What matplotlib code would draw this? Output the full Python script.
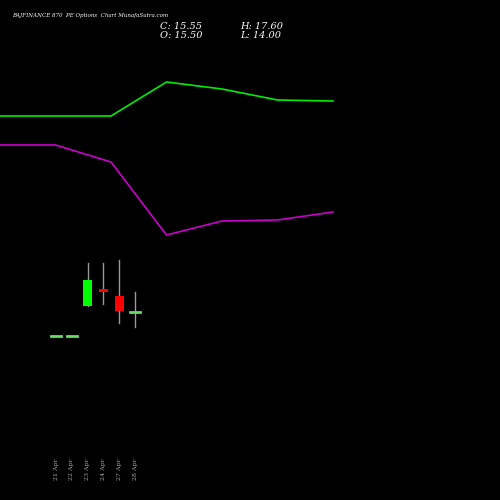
import matplotlib
matplotlib.use("Agg")
import matplotlib.pyplot as plt

dates = ["21 Apr", "22 Apr", "23 Apr", "24 Apr", "27 Apr", "28 Apr"]
opens = [13.0, 13.0, 16.1, 17.9, 17.1, 15.50]
closes = [13.0, 13.0, 18.8, 17.6, 15.6, 15.55]
highs = [13.0, 13.0, 20.5, 20.5, 20.9, 17.60]
lows = [13.0, 13.0, 16.1, 16.3, 14.4, 14.00]
green_line = [384, 384, 384, 418, 411, 400, 399]
magenta_line = [355, 355, 338, 265, 279, 280, 288]

fig = plt.figure(figsize=(5, 5), dpi=100, facecolor="black")
ax2 = fig.add_axes([0, 0, 1, 1], facecolor="black")
ax2.plot(range(len(green_line)), green_line, color="#00ee00", lw=1.2)
ax2.plot(range(len(magenta_line)), magenta_line, color="#cc00cc", lw=1.2)
ax2.set_xlim(0, 6 * 500 / 333)
ax2.set_ylim(0, 500)
ax2.axis("off")

ax = fig.add_axes([0, 0, 1, 1], facecolor="none")
ax.set_xlim(-3.54, 28.06)
ax.set_ylim(-3.84, 47.6)
ax.axis("off")
for i, (o, c, h, l) in enumerate(zip(opens, closes, highs, lows)):
    ax.plot([i, i], [l, h], color="#999999", lw=1, zorder=1)
    if c > o:
        col = "#00ff00"
    elif c < o:
        col = "#ff0000"
    else:
        col = "#66cc66"
    if abs(c - o) < 0.15:
        ax.plot([i - 0.3, i + 0.3], [(o + c) / 2] * 2, color="#66dd66" if c >= o else col, lw=2, zorder=2)
    else:
        ax.bar(i, abs(c - o), bottom=min(o, c), width=0.6, color=col, zorder=2)
    ax.text(i, -1.8, dates[i], rotation=90, color="#aaaaaa", fontsize=4.5,
            family="DejaVu Serif", ha="center", va="bottom")

fig.text(0.024, 0.966, "BAJFINANCE 870  PE Options  Chart MunafaSutra.com", color="white",
         fontsize=4.0, family="DejaVu Serif", style="italic")
fig.text(0.32, 0.942, "C: 15.55", color="white", fontsize=7, family="DejaVu Serif", style="italic")
fig.text(0.32, 0.924, "O: 15.50", color="white", fontsize=7, family="DejaVu Serif", style="italic")
fig.text(0.48, 0.942, "H: 17.60", color="white", fontsize=7, family="DejaVu Serif", style="italic")
fig.text(0.48, 0.924, "L: 14.00", color="white", fontsize=7, family="DejaVu Serif", style="italic")
fig.savefig("out.png", facecolor="black")
